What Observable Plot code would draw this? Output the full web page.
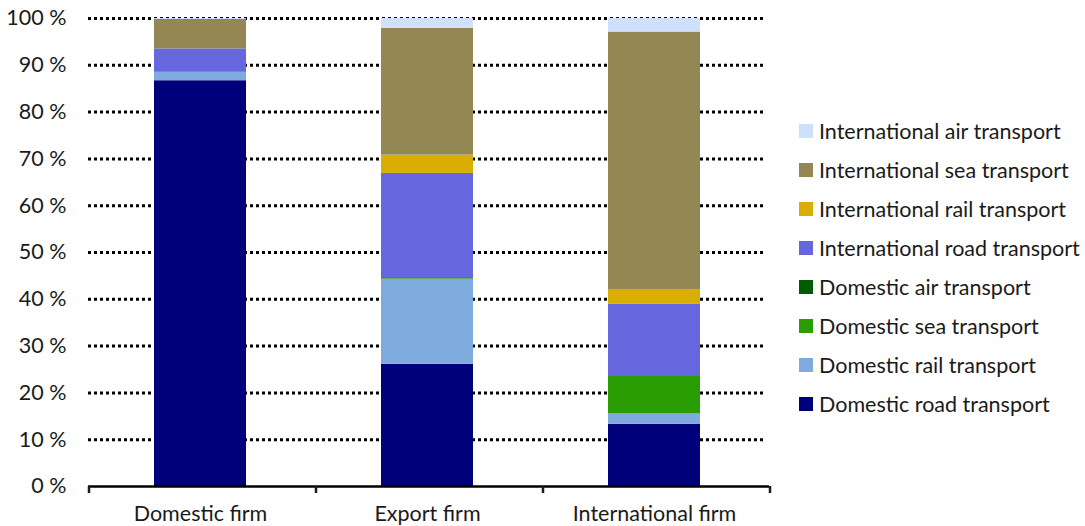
<!DOCTYPE html>
<html>
<head>
<meta charset="utf-8">
<script src="https://cdn.jsdelivr.net/npm/d3@7"></script>
<script src="https://cdn.jsdelivr.net/npm/@observablehq/plot@0.6"></script>
<style>
  html, body { margin: 0; padding: 0; background: #fff; }
  #wrap { position: relative; width: 1085px; height: 526px; font-family: Lato, "Open Sans", sans-serif; color: #1a1a1a; }
  #legend { position: absolute; left: 799px; top: 111px; }
  .item { display: flex; align-items: center; height: 39px; font-size: 21.5px; white-space: nowrap; }
  .sw { width: 14px; height: 14px; margin-right: 6px; flex: none; }
</style>
</head>
<body>
<div id="wrap"></div>
<script>
const firms = ["Domestic firm", "Export firm", "International firm"];
const series = [
  "Domestic road transport",
  "Domestic rail transport",
  "Domestic sea transport",
  "Domestic air transport",
  "International road transport",
  "International rail transport",
  "International sea transport",
  "International air transport"
];
const colors = ["#00007a", "#7eaadd", "#2a9c04", "#005c00", "#6666de", "#d9ae00", "#938853", "#cfe0ff"];
// shares in % per series, order of firms
const domesticRoad = [86.7, 26.1, 13.3];
const domesticRail = [1.8, 18.2, 2.2];
const domesticSea = [0.0, 0.1, 8.0];
const domesticAir = [0.1, 0.2, 0.0];
const internationalRoad = [4.9, 22.3, 15.5];
const internationalRail = [0.0, 3.9, 3.1];
const internationalSea = [6.3, 27.1, 55.0];
const internationalAir = [0.2, 2.1, 2.9];
const yTicks = [0, 10, 20, 30, 40, 50, 60, 70, 80, 90, 100];

const values = [domesticRoad, domesticRail, domesticSea, domesticAir, internationalRoad, internationalRail, internationalSea, internationalAir];
const data = [];
series.forEach((s, i) => firms.forEach((f, j) => data.push({firm: f, series: s, value: values[i][j]})));

const step = (769 - 88) / 3;
const font = "Lato, 'Open Sans', sans-serif";

const plot = Plot.plot({
  width: 1085,
  height: 526,
  marginLeft: 88,
  marginRight: 316,
  marginTop: 18,
  marginBottom: 40,
  style: {fontFamily: font, fontSize: "21.5px", color: "#1a1a1a", background: "#fff"},
  x: {domain: firms, paddingInner: 0.595, paddingOuter: 0.2975, label: null},
  y: {domain: [0, 100], label: null},
  color: {domain: series, range: colors},
  marks: [
    Plot.ruleY(yTicks.filter(d => d > 0), {y: d => d, stroke: "#000", strokeWidth: 3, strokeDasharray: "3,3", insetRight: 4}),
    Plot.barY(data, {x: "firm", y: "value", fill: "series", order: series, dx: -2}),
    Plot.ruleY([0], {stroke: "#000", strokeWidth: 2.5}),
    Plot.axisY({ticks: yTicks, tickSize: 0, tickPadding: 22, tickFormat: d => d + " %", fontSize: 21.5}),
    Plot.axisX({tickSize: 0, tickPadding: 19, fontSize: 21.5, dx: -2}),
    Plot.axisX({tickSize: 7, tickFormat: () => "", dx: -step / 2, strokeWidth: 2.5}),
    Plot.axisX({ticks: [firms[firms.length - 1]], tickSize: 7, tickFormat: () => "", dx: step / 2, strokeWidth: 2.5})
  ]
});

const wrap = document.getElementById("wrap");
wrap.appendChild(plot);

const legend = document.createElement("div");
legend.id = "legend";
series.slice().reverse().forEach(s => {
  const row = document.createElement("div");
  row.className = "item";
  const sw = document.createElement("span");
  sw.className = "sw";
  sw.style.background = colors[series.indexOf(s)];
  const t = document.createElement("span");
  t.textContent = s;
  row.appendChild(sw);
  row.appendChild(t);
  legend.appendChild(row);
});
wrap.appendChild(legend);
</script>
</body>
</html>
